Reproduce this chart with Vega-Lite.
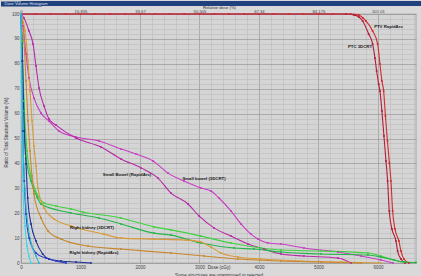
{
  "$schema": "https://vega.github.io/schema/vega-lite/v6.json",
  "background": "#d9d9d9",
  "autosize": {"type": "pad"},
  "padding": 0,
  "spacing": 8,
  "bounds": "flush",
  "config": {"font": "Liberation Sans", "view": {"stroke": null}},
  "datasets": {
    "dvh": [
      {"s":"PTV RapidArc","d":0,"v":100},{"s":"PTV RapidArc","d":250,"v":100},{"s":"PTV RapidArc","d":500,"v":100},{"s":"PTV RapidArc","d":750,"v":100},{"s":"PTV RapidArc","d":1000,"v":100},{"s":"PTV RapidArc","d":1250,"v":100},{"s":"PTV RapidArc","d":1500,"v":100},{"s":"PTV RapidArc","d":1750,"v":100},{"s":"PTV RapidArc","d":2000,"v":100},{"s":"PTV RapidArc","d":2250,"v":100},{"s":"PTV RapidArc","d":2500,"v":100},{"s":"PTV RapidArc","d":2750,"v":100},{"s":"PTV RapidArc","d":3000,"v":100},{"s":"PTV RapidArc","d":3250,"v":100},{"s":"PTV RapidArc","d":3500,"v":100},{"s":"PTV RapidArc","d":3750,"v":100},{"s":"PTV RapidArc","d":4000,"v":100},{"s":"PTV RapidArc","d":4250,"v":100},{"s":"PTV RapidArc","d":4500,"v":100},{"s":"PTV RapidArc","d":4750,"v":100},{"s":"PTV RapidArc","d":5000,"v":100},{"s":"PTV RapidArc","d":5250,"v":100},{"s":"PTV RapidArc","d":5546,"v":100},{"s":"PTV RapidArc","d":5681,"v":99.6},{"s":"PTV RapidArc","d":5748,"v":98.4},{"s":"PTV RapidArc","d":5798,"v":97.2},{"s":"PTV RapidArc","d":5911,"v":93.2},{"s":"PTV RapidArc","d":5995,"v":88.0},{"s":"PTV RapidArc","d":6034,"v":79.9},{"s":"PTV RapidArc","d":6067,"v":73.1},{"s":"PTV RapidArc","d":6096,"v":69.1},{"s":"PTV RapidArc","d":6126,"v":59.0},{"s":"PTV RapidArc","d":6160,"v":49.0},{"s":"PTV RapidArc","d":6193,"v":40.2},{"s":"PTV RapidArc","d":6219,"v":32.9},{"s":"PTV RapidArc","d":6247,"v":20.9},{"s":"PTV RapidArc","d":6286,"v":13.7},{"s":"PTV RapidArc","d":6353,"v":8.8},{"s":"PTV RapidArc","d":6387,"v":4.8},{"s":"PTV RapidArc","d":6437,"v":1.6},{"s":"PTV RapidArc","d":6521,"v":0},
      {"s":"PTV 3DCRT","d":0,"v":100},{"s":"PTV 3DCRT","d":5462,"v":100},{"s":"PTV 3DCRT","d":5597,"v":99.6},{"s":"PTV 3DCRT","d":5681,"v":98.8},{"s":"PTV 3DCRT","d":5743,"v":97.2},{"s":"PTV 3DCRT","d":5844,"v":92.0},{"s":"PTV 3DCRT","d":5911,"v":88.0},{"s":"PTV 3DCRT","d":5950,"v":82.3},{"s":"PTV 3DCRT","d":5978,"v":77.1},{"s":"PTV 3DCRT","d":6012,"v":71.9},{"s":"PTV 3DCRT","d":6034,"v":69.1},{"s":"PTV 3DCRT","d":6067,"v":61.0},{"s":"PTV 3DCRT","d":6101,"v":51.0},{"s":"PTV 3DCRT","d":6135,"v":41.0},{"s":"PTV 3DCRT","d":6163,"v":32.9},{"s":"PTV 3DCRT","d":6190,"v":20.9},{"s":"PTV 3DCRT","d":6235,"v":13.7},{"s":"PTV 3DCRT","d":6303,"v":8.8},{"s":"PTV 3DCRT","d":6331,"v":4.8},{"s":"PTV 3DCRT","d":6387,"v":1.6},{"s":"PTV 3DCRT","d":6454,"v":0},
      {"s":"Small bowel (3DCRT)","d":0,"v":100},{"s":"Small bowel (3DCRT)","d":34,"v":95.2},{"s":"Small bowel (3DCRT)","d":84,"v":83.9},{"s":"Small bowel (3DCRT)","d":134,"v":74.3},{"s":"Small bowel (3DCRT)","d":218,"v":66.3},{"s":"Small bowel (3DCRT)","d":336,"v":60.2},{"s":"Small bowel (3DCRT)","d":471,"v":57.0},{"s":"Small bowel (3DCRT)","d":639,"v":53.0},{"s":"Small bowel (3DCRT)","d":924,"v":50.6},{"s":"Small bowel (3DCRT)","d":1311,"v":49.0},{"s":"Small bowel (3DCRT)","d":1681,"v":45.8},{"s":"Small bowel (3DCRT)","d":1933,"v":43.8},{"s":"Small bowel (3DCRT)","d":2219,"v":41.0},{"s":"Small bowel (3DCRT)","d":2471,"v":36.1},{"s":"Small bowel (3DCRT)","d":2740,"v":32.9},{"s":"Small bowel (3DCRT)","d":3025,"v":30.1},{"s":"Small bowel (3DCRT)","d":3193,"v":28.9},{"s":"Small bowel (3DCRT)","d":3328,"v":26.1},{"s":"Small bowel (3DCRT)","d":3529,"v":20.9},{"s":"Small bowel (3DCRT)","d":3698,"v":15.7},{"s":"Small bowel (3DCRT)","d":3866,"v":11.6},{"s":"Small bowel (3DCRT)","d":3983,"v":9.6},{"s":"Small bowel (3DCRT)","d":4151,"v":8.0},{"s":"Small bowel (3DCRT)","d":4370,"v":7.6},{"s":"Small bowel (3DCRT)","d":4756,"v":6.0},{"s":"Small bowel (3DCRT)","d":5328,"v":4.4},{"s":"Small bowel (3DCRT)","d":5714,"v":2.8},{"s":"Small bowel (3DCRT)","d":6050,"v":1.2},{"s":"Small bowel (3DCRT)","d":6252,"v":0},
      {"s":"Small bowel (RapidArc)","d":0,"v":100},{"s":"Small bowel (RapidArc)","d":50,"v":98.4},{"s":"Small bowel (RapidArc)","d":134,"v":93.2},{"s":"Small bowel (RapidArc)","d":202,"v":88.0},{"s":"Small bowel (RapidArc)","d":252,"v":79.1},{"s":"Small bowel (RapidArc)","d":303,"v":70.3},{"s":"Small bowel (RapidArc)","d":387,"v":63.1},{"s":"Small bowel (RapidArc)","d":471,"v":57.8},{"s":"Small bowel (RapidArc)","d":588,"v":55.4},{"s":"Small bowel (RapidArc)","d":924,"v":50.2},{"s":"Small bowel (RapidArc)","d":1345,"v":46.6},{"s":"Small bowel (RapidArc)","d":1681,"v":41.8},{"s":"Small bowel (RapidArc)","d":2017,"v":38.2},{"s":"Small bowel (RapidArc)","d":2303,"v":34.1},{"s":"Small bowel (RapidArc)","d":2521,"v":28.1},{"s":"Small bowel (RapidArc)","d":2807,"v":23.7},{"s":"Small bowel (RapidArc)","d":2992,"v":18.9},{"s":"Small bowel (RapidArc)","d":3244,"v":14.1},{"s":"Small bowel (RapidArc)","d":3529,"v":10.8},{"s":"Small bowel (RapidArc)","d":3815,"v":7.6},{"s":"Small bowel (RapidArc)","d":4084,"v":5.6},{"s":"Small bowel (RapidArc)","d":4370,"v":3.6},{"s":"Small bowel (RapidArc)","d":4756,"v":2.8},{"s":"Small bowel (RapidArc)","d":5328,"v":2.0},{"s":"Small bowel (RapidArc)","d":5546,"v":0},
      {"s":"Green 1","d":0,"v":100},{"s":"Green 1","d":17,"v":89.2},{"s":"Green 1","d":50,"v":65.1},{"s":"Green 1","d":101,"v":45.0},{"s":"Green 1","d":168,"v":34.9},{"s":"Green 1","d":269,"v":27.7},{"s":"Green 1","d":387,"v":24.1},{"s":"Green 1","d":588,"v":22.9},{"s":"Green 1","d":840,"v":21.7},{"s":"Green 1","d":1042,"v":20.5},{"s":"Green 1","d":1681,"v":18.1},{"s":"Green 1","d":2235,"v":14.5},{"s":"Green 1","d":2521,"v":13.3},{"s":"Green 1","d":3025,"v":10.8},{"s":"Green 1","d":3529,"v":8.0},{"s":"Green 1","d":4034,"v":6.0},{"s":"Green 1","d":4370,"v":5.2},{"s":"Green 1","d":5042,"v":4.8},{"s":"Green 1","d":5832,"v":4.0},{"s":"Green 1","d":6050,"v":2.8},{"s":"Green 1","d":6269,"v":1.2},{"s":"Green 1","d":6437,"v":0.4},{"s":"Green 1","d":6639,"v":0.2},
      {"s":"Green 2","d":0,"v":100},{"s":"Green 2","d":17,"v":87.2},{"s":"Green 2","d":50,"v":61.0},{"s":"Green 2","d":84,"v":43.0},{"s":"Green 2","d":168,"v":32.9},{"s":"Green 2","d":269,"v":26.5},{"s":"Green 2","d":336,"v":23.7},{"s":"Green 2","d":840,"v":20.1},{"s":"Green 2","d":1311,"v":18.1},{"s":"Green 2","d":1681,"v":15.7},{"s":"Green 2","d":2235,"v":12.0},{"s":"Green 2","d":2521,"v":11.2},{"s":"Green 2","d":3025,"v":8.0},{"s":"Green 2","d":3580,"v":6.0},{"s":"Green 2","d":3916,"v":5.6},{"s":"Green 2","d":4370,"v":4.4},{"s":"Green 2","d":5042,"v":3.6},{"s":"Green 2","d":5832,"v":3.2},{"s":"Green 2","d":6050,"v":2.4},{"s":"Green 2","d":6269,"v":1.2},{"s":"Green 2","d":6437,"v":0.4},{"s":"Green 2","d":6639,"v":0.2},
      {"s":"Right kidney (3DCRT)","d":0,"v":100},{"s":"Right kidney (3DCRT)","d":67,"v":93.2},{"s":"Right kidney (3DCRT)","d":118,"v":81.2},{"s":"Right kidney (3DCRT)","d":151,"v":69.1},{"s":"Right kidney (3DCRT)","d":185,"v":57.0},{"s":"Right kidney (3DCRT)","d":218,"v":47.0},{"s":"Right kidney (3DCRT)","d":252,"v":39.0},{"s":"Right kidney (3DCRT)","d":286,"v":30.1},{"s":"Right kidney (3DCRT)","d":387,"v":22.1},{"s":"Right kidney (3DCRT)","d":555,"v":17.7},{"s":"Right kidney (3DCRT)","d":840,"v":14.9},{"s":"Right kidney (3DCRT)","d":1395,"v":11.6},{"s":"Right kidney (3DCRT)","d":1681,"v":10.0},{"s":"Right kidney (3DCRT)","d":2235,"v":9.6},{"s":"Right kidney (3DCRT)","d":2773,"v":9.2},{"s":"Right kidney (3DCRT)","d":3025,"v":8.4},{"s":"Right kidney (3DCRT)","d":3193,"v":6.4},{"s":"Right kidney (3DCRT)","d":3362,"v":4.0},{"s":"Right kidney (3DCRT)","d":3647,"v":2.4},{"s":"Right kidney (3DCRT)","d":4034,"v":1.6},{"s":"Right kidney (3DCRT)","d":4706,"v":0.8},{"s":"Right kidney (3DCRT)","d":5378,"v":0.4},{"s":"Right kidney (3DCRT)","d":6050,"v":0},
      {"s":"Right kidney (RapidArc)","d":0,"v":100},{"s":"Right kidney (RapidArc)","d":50,"v":89.2},{"s":"Right kidney (RapidArc)","d":84,"v":73.1},{"s":"Right kidney (RapidArc)","d":118,"v":57.0},{"s":"Right kidney (RapidArc)","d":151,"v":45.0},{"s":"Right kidney (RapidArc)","d":185,"v":34.9},{"s":"Right kidney (RapidArc)","d":218,"v":27.7},{"s":"Right kidney (RapidArc)","d":336,"v":18.1},{"s":"Right kidney (RapidArc)","d":454,"v":12.9},{"s":"Right kidney (RapidArc)","d":672,"v":9.6},{"s":"Right kidney (RapidArc)","d":1126,"v":6.8},{"s":"Right kidney (RapidArc)","d":1681,"v":5.6},{"s":"Right kidney (RapidArc)","d":2521,"v":4.0},{"s":"Right kidney (RapidArc)","d":3076,"v":2.8},{"s":"Right kidney (RapidArc)","d":3647,"v":1.6},{"s":"Right kidney (RapidArc)","d":4370,"v":0.8},{"s":"Right kidney (RapidArc)","d":5042,"v":0.4},{"s":"Right kidney (RapidArc)","d":5714,"v":0},
      {"s":"Navy 1","d":0,"v":100},{"s":"Navy 1","d":25,"v":81.1},{"s":"Navy 1","d":55,"v":53.0},{"s":"Navy 1","d":84,"v":39.8},{"s":"Navy 1","d":113,"v":26.1},{"s":"Navy 1","d":168,"v":15.7},{"s":"Navy 1","d":252,"v":8.8},{"s":"Navy 1","d":365,"v":3.6},{"s":"Navy 1","d":471,"v":1.6},{"s":"Navy 1","d":672,"v":0.8},{"s":"Navy 1","d":924,"v":0.4},{"s":"Navy 1","d":1176,"v":0},
      {"s":"Navy 2","d":0,"v":100},{"s":"Navy 2","d":17,"v":81.1},{"s":"Navy 2","d":29,"v":53.0},{"s":"Navy 2","d":55,"v":32.9},{"s":"Navy 2","d":84,"v":19.7},{"s":"Navy 2","d":139,"v":10.0},{"s":"Navy 2","d":252,"v":4.0},{"s":"Navy 2","d":420,"v":2.0},{"s":"Navy 2","d":588,"v":0.8},{"s":"Navy 2","d":756,"v":0},
      {"s":"Cyan 1","d":0,"v":100},{"s":"Cyan 1","d":8,"v":73.1},{"s":"Cyan 1","d":17,"v":49.0},{"s":"Cyan 1","d":34,"v":28.9},{"s":"Cyan 1","d":67,"v":14.9},{"s":"Cyan 1","d":101,"v":6.8},{"s":"Cyan 1","d":134,"v":2.8},{"s":"Cyan 1","d":168,"v":0},
      {"s":"Cyan 2","d":0,"v":100},{"s":"Cyan 2","d":17,"v":73.1},{"s":"Cyan 2","d":34,"v":49.0},{"s":"Cyan 2","d":67,"v":28.9},{"s":"Cyan 2","d":118,"v":14.9},{"s":"Cyan 2","d":185,"v":6.8},{"s":"Cyan 2","d":252,"v":2.8},{"s":"Cyan 2","d":303,"v":0}
    ],
    "labels": [
      {"t":"PTV RapidArc","d":6177,"v":94.8},
      {"t":"PTC 3DCRT","d":5698,"v":86.7},
      {"t":"Small Bowel (RapidArc)","d":1782,"v":35.3},
      {"t":"Small bowel (3DCRT)","d":3076,"v":33.6},
      {"t":"Right kidney (3DCRT)","d":1193,"v":14.2},
      {"t":"Right kidney (RapidArc)","d":1227,"v":4.1}
    ]
  },
  "vconcat": [
    {
      "width": 401,
      "height": 5,
      "view": {"fill": "#21407e", "stroke": null},
      "data": {"values": [{"k": 0.5}]},
      "mark": {"type": "point", "opacity": 0},
      "encoding": {
        "y": {
          "field": "k", "type": "quantitative",
          "scale": {"domain": [0, 1], "nice": false},
          "axis": {
            "domain": true, "domainColor": "#21407e", "domainWidth": 41, "domainCap": "butt",
            "labels": false, "ticks": false, "grid": false,
            "minExtent": 0, "maxExtent": 0,
            "title": "Dose Volume Histogram",
            "titleAngle": 0, "titleAlign": "left", "titleBaseline": "middle",
            "titleX": -17, "titleY": 2.5,
            "titleFontSize": 4, "titleFontWeight": "normal", "titleColor": "#dfe6f3"
          }
        }
      }
    },
    {
      "width": 395,
      "height": 249,
      "view": {"fill": "#d5d5d5", "stroke": "#8c8c8c", "strokeWidth": 0.6},
      "resolve": {"axis": {"x": "independent"}},
      "layer": [
        {
          "data": {"name": "dvh"},
          "mark": {"type": "line", "strokeWidth": 1.1, "interpolate": "monotone", "point": {"filled": true, "size": 4}},
          "encoding": {
            "x": {
              "field": "d", "type": "quantitative",
              "scale": {"domain": [0, 6640], "nice": false, "zero": false},
              "axis": {
                "orient": "bottom",
                "values": [0,200,400,600,800,1000,1200,1400,1600,1800,2000,2200,2400,2600,2800,3000,3200,3400,3600,3800,4000,4200,4400,4600,4800,5000,5200,5400,5600,5800,6000,6200,6400,6600],
                "grid": true,
                "gridColor": {"condition": {"test": "datum.value % 1000 === 0", "value": "#8e8e8e"}, "value": "#bcbcbc"},
                "gridWidth": 0.6,
                "ticks": false,
                "domain": false,
                "format": "d",
                "labelExpr": "datum.value % 1000 === 0 ? datum.label : ''",
                "labelFontSize": 4.5,
                "labelColor": "#444444",
                "labelPadding": 1,
                "labelOverlap": false,
                "labelFlush": false,
                "title": ["Dose (cGy)", "Some structures are unapproved or rejected"],
                "titleFontSize": 4.5,
                "titleFontWeight": "normal",
                "titleColor": "#333333",
                "titleLineHeight": 8,
                "titleBaseline": "top",
                "titleY": 1
              }
            },
            "y": {
              "field": "v", "type": "quantitative",
              "scale": {"domain": [0, 100], "nice": false},
              "axis": {
                "orient": "left",
                "values": [0,2,4,6,8,10,12,14,16,18,20,22,24,26,28,30,32,34,36,38,40,42,44,46,48,50,52,54,56,58,60,62,64,66,68,70,72,74,76,78,80,82,84,86,88,90,92,94,96,98,100],
                "grid": true,
                "gridColor": {"condition": {"test": "datum.value % 10 === 0", "value": "#8e8e8e"}, "value": "#bcbcbc"},
                "gridWidth": 0.6,
                "ticks": false,
                "domain": false,
                "labelExpr": "datum.value % 10 === 0 ? datum.label : ''",
                "labelFontSize": 4.5,
                "labelColor": "#444444",
                "labelPadding": 2,
                "labelOverlap": false,
                "labelFlush": false,
                "title": "Ratio of Total Structure Volume (%)",
                "titleFontSize": 4.5,
                "titleFontWeight": "normal",
                "titleColor": "#333333",
                "titleX": -15,
                "titleY": 118,
                "titleBaseline": "middle",
                "minExtent": 20,
                "maxExtent": 20
              }
            },
            "color": {
              "field": "s", "type": "nominal", "legend": null,
              "scale": {
                "domain": ["PTV RapidArc","PTV 3DCRT","Small bowel (3DCRT)","Small bowel (RapidArc)","Green 1","Green 2","Right kidney (3DCRT)","Right kidney (RapidArc)","Navy 1","Navy 2","Cyan 1","Cyan 2"],
                "range": ["#d42a2a","#b01e3c","#c93cc4","#b62aa6","#3fd23f","#24b64a","#d99a3a","#c8862e","#1f2f9a","#283cc0","#3fd6e6","#2bb8d0"]
              }
            }
          }
        },
        {
          "data": {"name": "labels"},
          "mark": {"type": "text", "fontSize": 4.3, "fontWeight": "bold", "color": "#1a1a1a"},
          "encoding": {
            "x": {
              "field": "d", "type": "quantitative",
              "axis": {
                "orient": "top",
                "values": [0,1000,2000,3000,4000,5000,6000],
                "grid": false,
                "ticks": false,
                "domain": false,
                "labelExpr": "format(datum.value * 0.016835, '.5~')",
                "labelFontSize": 4.2,
                "labelColor": "#444444",
                "labelPadding": 0.5,
                "labelOverlap": false,
                "labelFlush": false,
                "title": "Relative dose (%)",
                "titleFontSize": 4.2,
                "titleFontWeight": "normal",
                "titleColor": "#333333",
                "titleX": 198,
                "titleY": -6.3,
                "titleBaseline": "middle",
                "minExtent": 8,
                "maxExtent": 8
              }
            },
            "y": {
              "field": "v", "type": "quantitative",
              "axis": {
                "orient": "left",
                "values": [0,2,4,6,8,10,12,14,16,18,20,22,24,26,28,30,32,34,36,38,40,42,44,46,48,50,52,54,56,58,60,62,64,66,68,70,72,74,76,78,80,82,84,86,88,90,92,94,96,98,100],
                "grid": true,
                "gridColor": {"condition": {"test": "datum.value % 10 === 0", "value": "#8e8e8e"}, "value": "#bcbcbc"},
                "gridWidth": 0.6,
                "ticks": false,
                "domain": false,
                "labelExpr": "datum.value % 10 === 0 ? datum.label : ''",
                "labelFontSize": 4.5,
                "labelColor": "#444444",
                "labelPadding": 2,
                "labelOverlap": false,
                "labelFlush": false,
                "title": "Ratio of Total Structure Volume (%)",
                "titleFontSize": 4.5,
                "titleFontWeight": "normal",
                "titleColor": "#333333",
                "titleX": -15,
                "titleY": 118,
                "titleBaseline": "middle",
                "minExtent": 20,
                "maxExtent": 20
              }
            },
            "text": {"field": "t"}
          }
        }
      ]
    }
  ]
}
